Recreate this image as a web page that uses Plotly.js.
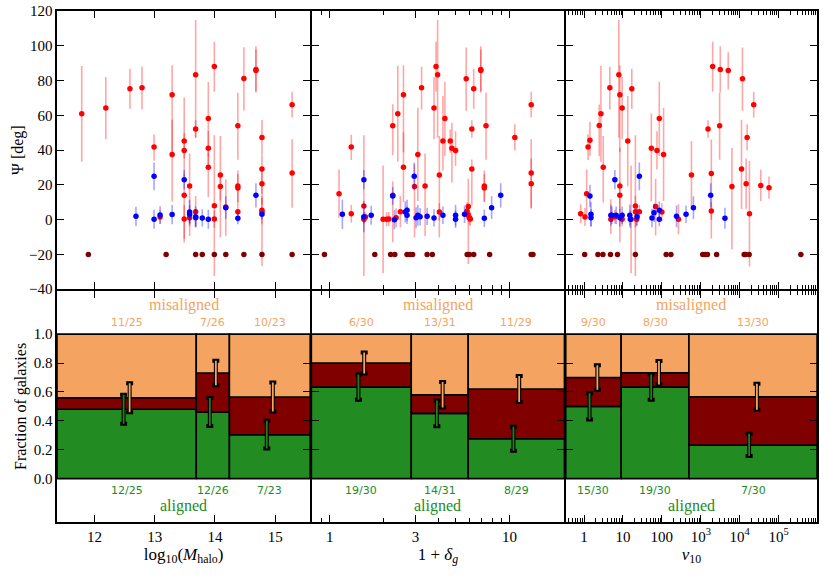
<!DOCTYPE html>
<html>
<head>
<meta charset="utf-8">
<script src="https://cdn.plot.ly/plotly-3.0.1.min.js"></script>
<style>body{margin:0;background:#fff} #plot{width:830px;height:581px}</style>
</head>
<body>
<div id="plot"></div>
<script>
// ---- top row: misalignment angle of each galaxy ----
// halo mass panel
const haloRedX = [11.79,12.19,12.59,12.79,12.99,13.09,13.29,13.29,13.49,13.49,13.49,13.49,13.58,13.58,13.68,13.68,13.68,13.89,13.89,13.89,13.99,13.99,13.99,14.09,14.09,14.18,14.38,14.38,14.38,14.38,14.48,14.68,14.68,14.78,14.78,14.78,14.78,14.78,15.28,15.28];
const haloRedY = [60.9,64.2,75.3,75.9,41.8,1.5,71.8,37.5,45.2,39.8,14.0,0.4,19.3,1.1,83.3,52.1,4.6,58.2,41.0,30.1,88.1,8.0,0.4,25.7,19.0,7.3,54.0,19.3,18.2,4.6,81.2,86.4,85.8,47.3,29.1,20.7,5.4,4.4,66.1,26.8];
const haloRedUp = [27.4,17.8,11.5,12,7.2,4,17,20,25,10,12,8,18.7,5,31.5,5,9,21,10,8,14.2,40.5,5,22.4,8,16,19,9,8,6,18,13.3,12,10,8,9,8,8,7.5,19.4];
const haloRedDown = [27.6,18,11.5,12.5,7.9,4,33,27,10,15,25,13.6,28.7,5,36.2,5,9,21.6,10,17,14.5,40.4,5,36,8,16.6,19.5,9,8,6,18.4,13.3,12,10,14,12,8,31,7.3,19.9];
const haloBlueX = [12.69,12.99,12.99,13.09,13.29,13.49,13.58,13.58,13.68,13.68,13.79,13.89,14.18,14.38,14.68,14.78];
const haloBlueY = [1.9,24.9,0.2,2.7,2.9,23.0,4.4,3.1,1.7,1.1,1.0,0.2,6.9,0.8,14.0,3.1];
const haloBlueErr = [5.5,8,5.5,5,5.5,5.5,7,5,6,5,5,5.5,6.5,3.5,7,3];
const haloNoneX = [11.90,13.19,13.68,13.79,13.99,14.18,14.48,14.78,15.28];
const haloNoneY = [-20,-20,-20,-20,-20,-20,-20,-20,-20];

// density panel
const densRedX = [1.126,1.317,1.317,1.548,1.548,1.58,1.548,1.98,2.07,2.13,2.24,2.24,2.34,2.39,2.47,2.57,2.57,2.96,3.09,3.24,3.39,3.80,3.90,3.98,4.07,4.07,4.26,4.37,4.68,4.78,5.01,5.74,5.80,5.90,5.90,5.98,6.05,6.17,6.17,6.32,6.92,6.92,7.24,7.24,7.40,10.7,13.2,13.2,13.2];
const densRedY = [14.9,41.8,3.4,7.9,1.1,1.5,0.2,0.2,0.2,0.4,54.0,14.0,1.1,60.9,4.6,71.8,30.1,19.0,37.5,75.9,19.3,64.2,88.1,83.3,25.7,4.4,45.2,58.2,45.2,41.0,39.8,81.0,5.0,7.5,2.5,1.1,0.4,52.1,29.1,75.3,86.4,85.8,19.3,18.2,54.0,47.3,66.1,26.8,20.7];
const densRedUp = [14,7,5,40.6,3,3,3,31,4,4,12.3,8,5.5,27.4,9,17,20,12.8,26.8,12,18.7,17.8,14.2,31.5,22.4,5,25.9,21,6.7,14.7,11,18,5,16,4,4,4,5,5.5,11.5,13.3,12,9,8,19,7.5,7.5,19.4,14.5];
const densRedDown = [13.8,7.5,5,40.3,3,3,3,31,4,4,17,27,5.5,27.6,9,33,20,29.3,26.8,12.5,28.7,18,14.5,36.2,36,5,16.9,21.6,6.7,19.7,9,18.4,5,33,4,4,4,5,21,11.5,13.3,12,9,8,19.5,7.5,7.3,19.9,14.5];
const densBlueX = [1.175,1.548,1.548,1.70,2.24,2.29,2.63,2.69,2.69,2.95,3.02,3.09,3.18,3.48,3.80,4.26,5.01,5.01,5.62,7.24,7.95,8.93];
const densBlueY = [3.1,23.0,1.7,2.5,13.6,0,4.4,5.4,2.5,24.9,1.1,2.5,1.7,1.9,1.0,2.5,2.5,0.2,3.1,0.8,6.9,14.0];
const densBlueErr = [8.5,5.5,9,5.5,5,5.5,6,6,5,8,6,6,5,5,5,5,6,5,5,5,6.5,7];
const densNoneX = [0.934,1.78,2.18,2.30,2.69,2.80,2.89,3.48,3.72,5.81,5.98,6.32,7.75,13.2,13.5];
const densNoneY = [-20,-20,-20,-20,-20,-20,-20,-20,-20,-20,-20,-20,-20,-20,-20];

// nu10 panel
const nuRedX = [0.82,1.06,1.17,1.27,1.42,2.46,2.72,3.12,4.61,4.90,6.2,7.84,8.32,8.32,8.32,9.54,9.54,13.3,16.2,16.9,20.9,20.9,22.5,26.4,53.6,69.2,74.8,85.9,100,110.7,267,575,1535,1864,1864,2018,3048,3163,5070,6310,11120,11750,14630,15490,17780,22900,34700,56600];
const nuRedY = [3.4,1.5,14.9,41.8,45.6,54.2,60.9,30.1,75.9,0.2,1.7,83.3,71.8,19.3,14.0,64.2,0.2,45.2,0.2,75.3,7.9,4.6,0.2,4.6,41.0,7.5,39.8,58.2,4.4,37.5,0.2,25.7,52.1,26.6,5.0,88.1,54.0,86.4,85.8,19.0,29.1,81.0,20.7,47.3,3.4,66.1,19.7,18.4];
const nuRedUp = [5.5,5.2,14,7.3,10.5,12,27.4,18,12,11.5,4,31.5,17,22,8,17.8,4,25.9,31,11.5,40.6,9,4,4,20,16,11,21,5,26.8,8.6,19.5,5,19.5,5,14.2,19,13.3,10.5,22.4,28.3,18,14.5,7.5,30.3,7.5,9,6.4];
const nuRedDown = [5.5,5.2,13.8,7.5,9,17.8,27.6,20.3,12.5,8.4,4,36.2,33,14,27,18,4,26,31,11.5,40.3,9,4,4,30.4,16.6,11,21.6,5,26.8,8.6,18.6,5,37.5,5,14.5,19.5,13.3,11,36,23,18.4,14.5,7.5,30.3,7.3,9,6.4];
const nuBlueX = [1.42,1.51,1.51,4.90,5.2,6.2,6.7,8.32,9.54,15,15.5,23,26.4,55.7,62.9,85.9,85.9,238,418,647,1795,4170];
const nuBlueY = [13.6,3.1,1.1,2.5,2.5,23.0,2.5,1.1,2.5,2.5,0.2,1.7,24.9,1.0,4.0,5.4,0.2,1.9,3.1,6.9,14.0,0.8];
const nuBlueErr = [6.5,7,5,6,5,5.5,5,5,5,6,5,5,8,5.3,5.3,5,4,6.3,5,6.5,7,6];
const nuNoneX = [1.04,2.28,3.06,4.80,7.25,20.9,129,171,1120,1290,1480,2550,13000,14060,17460,372000];
const nuNoneY = [-20,-20,-20,-20,-20,-20,-20,-20,-20,-20,-20,-20,-20,-20,-20,-20];

// ---- bottom row: binned fractions ----
const haloEdges = [11.38, 13.69, 14.24, 15.58];
const haloAligned = [12, 12, 7];
const haloMis = [11, 7, 10];
const haloN = [25, 26, 23];
const haloAlignedErr = [0.10, 0.097, 0.096];
const haloMisErr = [0.10, 0.085, 0.10];

const densEdges = [0.79, 2.84, 5.89, 20.2];
const densAligned = [19, 14, 8];
const densMis = [6, 13, 11];
const densN = [30, 31, 29];
const densAlignedErr = [0.088, 0.089, 0.083];
const densMisErr = [0.073, 0.089, 0.09];

const nuEdges = [0.34, 9.0, 497, 970000];
const nuAligned = [15, 19, 7];
const nuMis = [9, 8, 13];
const nuN = [30, 30, 30];
const nuAlignedErr = [0.091, 0.088, 0.077];
const nuMisErr = [0.084, 0.081, 0.09];

const SERIF = 'Liberation Serif, DejaVu Serif, serif';
const SANS = 'DejaVu Sans, sans-serif';
const GREEN = '#228b22', MAROON = '#800000', ORANGE = '#f4a460';
const LW = 1.6;

main();

function main() {
    let traces = [];
    let annotations = [];
    let layout = {
        width: 830, height: 581,
        margin: {l: 57, r: 13, t: 11, b: 59},
        paper_bgcolor: 'white', plot_bgcolor: 'white',
        showlegend: false,
        annotations: annotations
    };
    // axis lines sit outside the plot area, so leave a line-width gap
    // between neighbouring panels to make the shared borders overlap
    let gx = LW / 2 / 760, gy = LW / 2 / 511;
    let xdom = [[0, 0.3342 - gx], [0.3342 + gx, 0.6684 - gx], [0.6684 + gx, 1]];
    let ybot = [0, 0.454 - gy], ytop = [0.454 + gy, 1];

    let panels = [
        {log: false, range: [11.38, 15.58], shift: 0.05,
         red: [haloRedX, haloRedY, haloRedUp, haloRedDown], blue: [haloBlueX, haloBlueY, haloBlueErr], none: [haloNoneX, haloNoneY],
         edges: haloEdges, al: haloAligned, mis: haloMis, n: haloN, alErr: haloAlignedErr, misErr: haloMisErr,
         tickvals: [12, 13, 14, 15], ticktext: ['12', '13', '14', '15'], minor: null,
         title: 'log<sub>10</sub>(<i>M</i><sub>halo</sub>)'},
        {log: true, range: [-0.1, 1.304], shift: 0.016,
         red: [densRedX, densRedY, densRedUp, densRedDown], blue: [densBlueX, densBlueY, densBlueErr], none: [densNoneX, densNoneY],
         edges: densEdges, al: densAligned, mis: densMis, n: densN, alErr: densAlignedErr, misErr: densMisErr,
         tickvals: [1, 3, 10], ticktext: ['1', '3', '10'], minor: [0.8, 0.9, 2, 4, 5, 6, 7, 8, 9, 20],
         title: '1 + <i>δ<sub>g</sub></i>'},
        {log: true, range: [-0.468, 5.985], shift: 0.1,
         red: [nuRedX, nuRedY, nuRedUp, nuRedDown], blue: [nuBlueX, nuBlueY, nuBlueErr], none: [nuNoneX, nuNoneY],
         edges: nuEdges, al: nuAligned, mis: nuMis, n: nuN, alErr: nuAlignedErr, misErr: nuMisErr,
         tickvals: [1, 10, 100, 1e3, 1e4, 1e5], ticktext: ['1', '10', '100', '10<sup>3</sup>', '10<sup>4</sup>', '10<sup>5</sup>'],
         minor: logMinors(-1, 6),
         title: '<i>ν</i><sub>10</sub>'}
    ];

    panels.forEach((p, i) => {
        let bx = 'x' + (i + 1), by = 'y' + (i + 1);
        let tx = 'x' + (i + 4), ty = 'y' + (i + 4);
        let sfx = (k) => (k === 1 ? '' : k);

        // axes
        let xa = axisBase();
        Object.assign(xa, {
            domain: xdom[i], anchor: by, type: p.log ? 'log' : 'linear', range: p.range,
            tickmode: 'array', tickvals: p.tickvals, ticktext: p.ticktext
        });
        if (p.minor) xa.minor = {tickmode: 'array', tickvals: p.minor, ticks: 'inside', ticklen: 4, tickcolor: 'black', tickwidth: 1, showgrid: false};
        let xt = JSON.parse(JSON.stringify(xa));
        Object.assign(xt, {anchor: ty, showticklabels: false});
        xa.title = {text: p.title, font: {family: SERIF, size: 17, color: 'black'}, standoff: 4};
        layout['xaxis' + sfx(i + 1)] = xa;
        layout['xaxis' + (i + 4)] = xt;

        let ya = axisBase();
        Object.assign(ya, {domain: ybot, anchor: bx, range: [-0.3, 1.3],
            tickmode: 'array', tickvals: [0, 0.2, 0.4, 0.6, 0.8, 1.0], tickformat: '.1f',
            showticklabels: i === 0});
        let yt = axisBase();
        Object.assign(yt, {domain: ytop, anchor: tx, range: [-40, 120],
            tickmode: 'array', tickvals: [-40, -20, 0, 20, 40, 60, 80, 100, 120],
            showticklabels: i === 0});
        if (i === 0) {
            ya.title = {text: 'Fraction of galaxies', font: {family: SERIF, size: 16, color: 'black'}, standoff: 3};
            yt.title = {text: 'Ψ [deg]', font: {family: SERIF, size: 16, color: 'black'}, standoff: 1};
        }
        layout['yaxis' + sfx(i + 1)] = ya;
        layout['yaxis' + (i + 4)] = yt;

        // top scatter
        traces.push({
            x: p.red[0], y: p.red[1], xaxis: tx, yaxis: ty, type: 'scatter', mode: 'markers',
            marker: {color: '#ff0000', size: 5.5},
            error_y: {type: 'data', symmetric: false, array: p.red[2], arrayminus: p.red[3],
                color: 'rgba(255,0,0,0.35)', thickness: 1.6, width: 0}
        });
        traces.push({
            x: p.blue[0], y: p.blue[1], xaxis: tx, yaxis: ty, type: 'scatter', mode: 'markers',
            marker: {color: '#0000ff', size: 5.5},
            error_y: {type: 'data', array: p.blue[2], color: 'rgba(0,0,255,0.35)', thickness: 1.6, width: 0}
        });
        traces.push({
            x: p.none[0], y: p.none[1], xaxis: tx, yaxis: ty, type: 'scatter', mode: 'markers',
            marker: {color: MAROON, size: 5.5}
        });

        // bottom stacked boxes
        let alCx = [], misCx = [], alY = [], misY = [];
        for (let j = 0; j < p.n.length; j++) {
            let x0 = p.edges[j], x1 = p.edges[j + 1];
            let fa = p.al[j] / p.n[j], fm = p.mis[j] / p.n[j];
            box(traces, bx, by, x0, x1, 0, fa, GREEN);
            box(traces, bx, by, x0, x1, fa, 1 - fm, MAROON);
            box(traces, bx, by, x0, x1, 1 - fm, 1, ORANGE);

            let c = p.log ? (Math.log10(x0) + Math.log10(x1)) / 2 : (x0 + x1) / 2;
            let pos = (v) => (p.log ? Math.pow(10, v) : v);
            alCx.push(pos(c - p.shift));
            misCx.push(pos(c + p.shift));
            alY.push(fa);
            misY.push(1 - fm);

            annotations.push(label(bx, by, c, 1.08, p.mis[j] + '/' + p.n[j], ORANGE));
            annotations.push(label(bx, by, c, -0.08, p.al[j] + '/' + p.n[j], GREEN));
        }
        errBar(traces, bx, by, alCx, alY, p.alErr, '#1f7f1f');
        errBar(traces, bx, by, misCx, misY, p.misErr, ORANGE);

        annotations.push({xref: bx + ' domain', yref: by, x: 0.5, y: 1.2, text: 'misaligned', showarrow: false,
            font: {family: SERIF, size: 16, color: ORANGE}});
        annotations.push({xref: bx + ' domain', yref: by, x: 0.5, y: -0.19, text: 'aligned', showarrow: false,
            font: {family: SERIF, size: 16, color: GREEN}});
    });

    Plotly.newPlot('plot', traces, layout, {displayModeBar: false, staticPlot: true});
}

function axisBase() {
    return {showline: true, linecolor: 'black', linewidth: LW, mirror: 'ticks', ticks: 'inside',
        ticklen: 7, tickwidth: 1, tickcolor: 'black', showgrid: false, zeroline: false,
        tickfont: {family: SERIF, size: 15, color: 'black'}};
}

function logMinors(lo, hi) {
    let out = [];
    for (let k = lo; k < hi; k++) {
        for (let d = 2; d <= 9; d++) out.push(d * Math.pow(10, k));
    }
    return out;
}

function box(traces, xa, ya, x0, x1, y0, y1, color) {
    traces.push({
        x: [x0, x1, x1, x0, x0], y: [y0, y0, y1, y1, y0], xaxis: xa, yaxis: ya,
        type: 'scatter', mode: 'lines', fill: 'toself', fillcolor: color,
        line: {color: 'black', width: LW}, hoverinfo: 'skip'
    });
}

function errBar(traces, xa, ya, x, y, err, color) {
    // black outline first, coloured core on top
    traces.push({x: x, y: y, xaxis: xa, yaxis: ya, type: 'scatter', mode: 'markers',
        marker: {size: 0.1, color: 'rgba(0,0,0,0)'},
        error_y: {type: 'data', array: err, color: 'black', thickness: 4, width: 3.5}});
    traces.push({x: x, y: y, xaxis: xa, yaxis: ya, type: 'scatter', mode: 'markers',
        marker: {size: 0.1, color: 'rgba(0,0,0,0)'},
        error_y: {type: 'data', array: err, color: color, thickness: 1.8, width: 0}});
}

function label(xa, ya, x, y, text, color) {
    return {xref: xa, yref: ya, x: x, y: y, text: text, showarrow: false,
        font: {family: SANS, size: 11, color: color}};
}
</script>
</body>
</html>
